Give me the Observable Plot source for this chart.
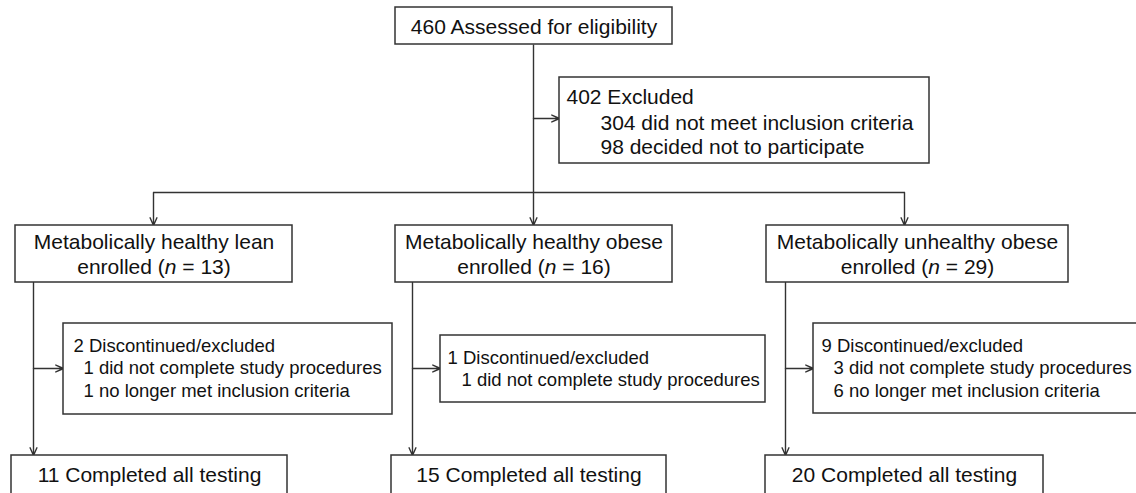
<!DOCTYPE html>
<html><head><meta charset="utf-8">
<script src="https://cdn.jsdelivr.net/npm/d3@7"></script>
<script src="https://cdn.jsdelivr.net/npm/@observablehq/plot@0.6"></script>
<style>html,body{margin:0;padding:0;background:#fff;overflow:hidden}</style>
</head><body><div id="chart"></div><script>
// ---------- DATA ----------
const assessed = 460;
const excludedTotal = 402;
const excludedCounts = [304, 98];
const excludedReasons = ["did not meet inclusion criteria", "decided not to participate"];
const groups = ["Metabolically healthy lean", "Metabolically healthy obese", "Metabolically unhealthy obese"];
const enrolled = [13, 16, 29];
const discontinued = [2, 1, 9];
const notCompleted = [1, 1, 3];
const noLongerMet = [1, 0, 6];
const completed = [11, 15, 20];

// ---------- LAYOUT (diagram geometry, px) ----------
const W = 1136, H = 493;
const topBox = {x1: 395, x2: 672, y1: 7, y2: 44, cx: 533.5, base: 33};
const trunkX = 533;
const exclBox = {x1: 559, x2: 929, y1: 77, y2: 163, arrowY: 118, x0: 566, xi: 600, bases: [103, 129, 153]};
const branchY = 192;
const dropX = [153, 533, 904];
const groupBoxX = [[15, 292], [395, 672], [766, 1068]];
const groupBoxY = [225, 282];
const groupBase = [248, 273];
const stemX = [33, 412, 785];
const sideArrowY = 368;
const discBoxX = [[63, 392], [440, 765], [813, 1150]];
const discBoxY = [[323, 414], [335, 402], [323, 413]];
const discX0 = [73, 447, 821];
const discXi = [83, 461, 833];
const discFirstBase = [351, 363, 351];
const discStep = 22.5;
const finalBoxX = [[11, 287], [391, 666], [765, 1043]];
const finalBoxY = [455, 510];
const finalBase = 481;

const BIG = 21, SMALL = 18.5;
const FONT = "'Liberation Sans', Arial, Helvetica, sans-serif";
const INK = "#111", LINE = "#333";

// ---------- BUILD TABLES ----------
const boxes = [
  {x1: topBox.x1, x2: topBox.x2, y1: topBox.y1, y2: topBox.y2},
  {x1: exclBox.x1, x2: exclBox.x2, y1: exclBox.y1, y2: exclBox.y2},
  ...groups.map((g, i) => ({x1: groupBoxX[i][0], x2: groupBoxX[i][1], y1: groupBoxY[0], y2: groupBoxY[1]})),
  ...groups.map((g, i) => ({x1: discBoxX[i][0], x2: discBoxX[i][1], y1: discBoxY[i][0], y2: discBoxY[i][1]})),
  ...groups.map((g, i) => ({x1: finalBoxX[i][0], x2: finalBoxX[i][1], y1: finalBoxY[0], y2: finalBoxY[1]}))
];

const plainLines = [
  {x1: trunkX, y1: topBox.y2, x2: trunkX, y2: branchY},
  {x1: dropX[0], y1: branchY, x2: dropX[2], y2: branchY}
];
const arrows = [
  {x1: trunkX, y1: exclBox.arrowY, x2: exclBox.x1, y2: exclBox.arrowY},
  ...dropX.map(x => ({x1: x, y1: branchY, x2: x, y2: groupBoxY[0]})),
  ...stemX.map((x, i) => ({x1: x, y1: groupBoxY[1], x2: x, y2: finalBoxY[0]})),
  ...stemX.map((x, i) => ({x1: x, y1: sideArrowY, x2: discBoxX[i][0], y2: sideArrowY}))
];

const centerBig = [
  {text: `${assessed} Assessed for eligibility`, x: topBox.cx, y: topBox.base},
  ...groups.flatMap((g, i) => {
    const cx = (groupBoxX[i][0] + groupBoxX[i][1]) / 2;
    return [
      {text: g, x: cx, y: groupBase[0]},
      {text: `enrolled (n = ${enrolled[i]})`, x: cx, y: groupBase[1]}
    ];
  }),
  ...completed.map((c, i) => ({text: `${c} Completed all testing`, x: (finalBoxX[i][0] + finalBoxX[i][1]) / 2, y: finalBase}))
];

const leftBig = [
  {text: `${excludedTotal} Excluded`, x: exclBox.x0, y: exclBox.bases[0]},
  ...excludedCounts.map((c, j) => ({text: `${c} ${excludedReasons[j]}`, x: exclBox.xi, y: exclBox.bases[j + 1]}))
];

const leftSmall = groups.flatMap((g, i) => {
  const lines = [{text: `${discontinued[i]} Discontinued/excluded`, x: discX0[i]}];
  if (notCompleted[i] > 0) lines.push({text: `${notCompleted[i]} did not complete study procedures`, x: discXi[i]});
  if (noLongerMet[i] > 0) lines.push({text: `${noLongerMet[i]} no longer met inclusion criteria`, x: discXi[i]});
  return lines.map((l, k) => ({...l, y: discFirstBase[i] + k * discStep}));
});

// ---------- PLOT ----------
const chart = Plot.plot({
  width: W, height: H,
  margin: 0,
  x: {domain: [0, W], range: [0, W], axis: null},
  y: {domain: [0, H], range: [0, H], axis: null},
  style: {background: "#fff", fontFamily: FONT},
  marks: [
    Plot.link(plainLines, {x1: "x1", y1: "y1", x2: "x2", y2: "y2", stroke: LINE, strokeWidth: 1.4}),
    Plot.arrow(arrows, {x1: "x1", y1: "y1", x2: "x2", y2: "y2", stroke: LINE, strokeWidth: 1.4, headLength: 9, headAngle: 48}),
    Plot.rect(boxes, {x1: "x1", x2: "x2", y1: "y1", y2: "y2", fill: "#fff", stroke: LINE, strokeWidth: 1.5}),
    Plot.text(centerBig, {x: "x", y: "y", text: "text", textAnchor: "middle", lineAnchor: "bottom", fontSize: BIG, fill: INK, fontFamily: FONT}),
    Plot.text(leftBig, {x: "x", y: "y", text: "text", textAnchor: "start", lineAnchor: "bottom", fontSize: BIG, fill: INK, fontFamily: FONT}),
    Plot.text(leftSmall, {x: "x", y: "y", text: "text", textAnchor: "start", lineAnchor: "bottom", fontSize: SMALL, fill: INK, fontFamily: FONT})
  ]
});

// italic "n" in the enrolment lines
d3.select(chart).selectAll("text").filter(function () { return /\(n = /.test(this.textContent); })
  .each(function () {
    const m = this.textContent.match(/^(.*\()n( = .*)$/);
    if (!m) return;
    const s = d3.select(this);
    s.text(null);
    s.append("tspan").text(m[1]);
    s.append("tspan").attr("font-style", "italic").text("n");
    s.append("tspan").text(m[2]);
  });

document.getElementById("chart").appendChild(chart);
</script></body></html>
